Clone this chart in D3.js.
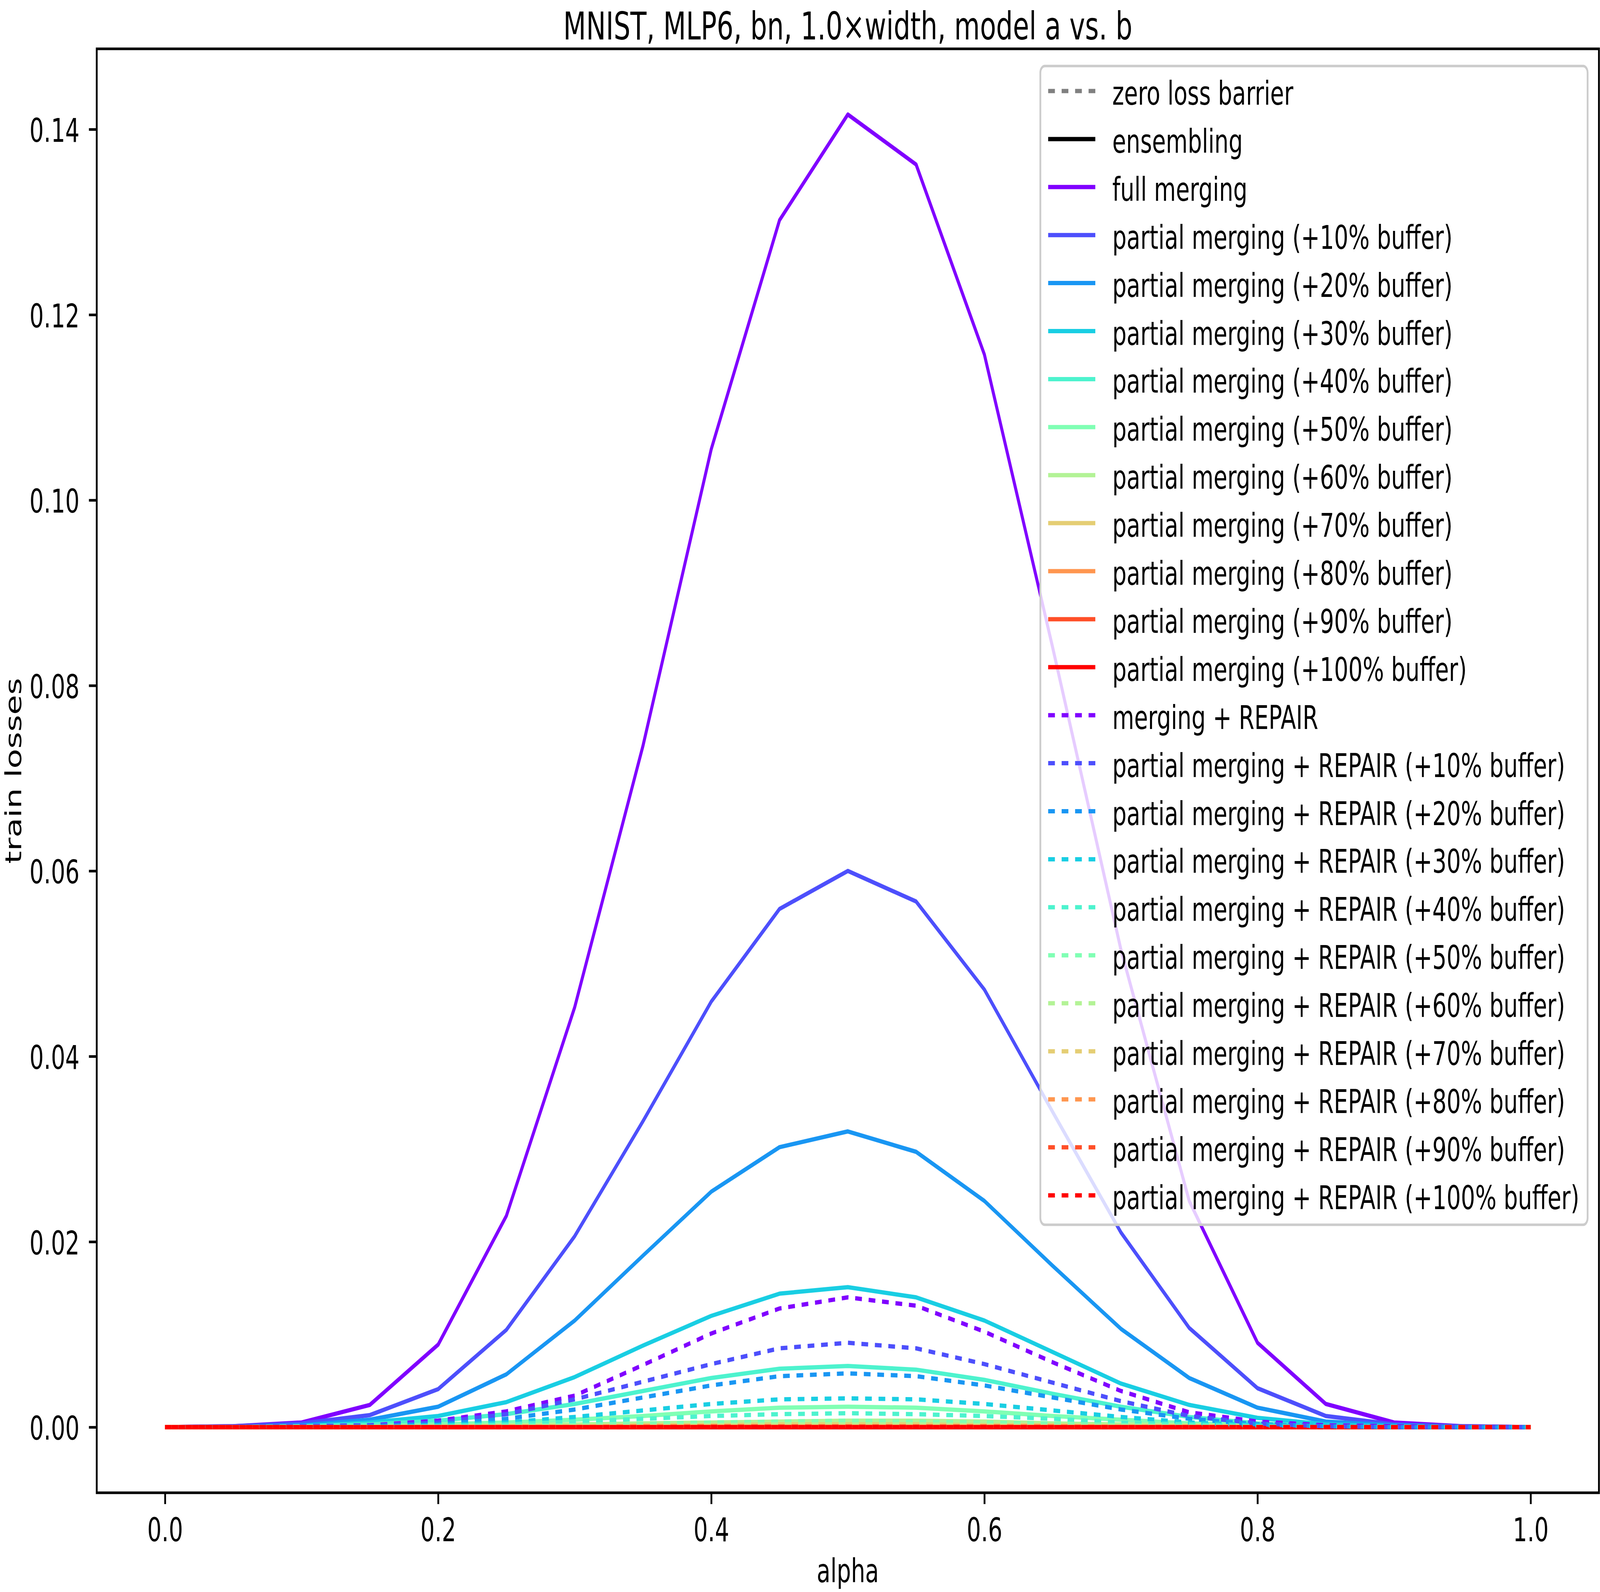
<!DOCTYPE html>
<html>
<head>
<meta charset="utf-8">
<script src="https://cdn.jsdelivr.net/npm/d3@7"></script>
<style>
  html, body { margin: 0; padding: 0; background: #fff; overflow: hidden; }
  svg { display: block; width: 100vw; height: 100vh; }
  text { font-family: "DejaVu Sans", sans-serif; }
</style>
</head>
<body>
<svg id="chart"></svg>
<script>
// interpolation coefficient
var alphas = [0, 0.05, 0.1, 0.15, 0.2, 0.25, 0.3, 0.35, 0.4, 0.45, 0.5,
              0.55, 0.6, 0.65, 0.7, 0.75, 0.8, 0.85, 0.9, 0.95, 1.0];

var xTicks = [0, 0.2, 0.4, 0.6, 0.8, 1.0];
var yTicks = [0, 0.02, 0.04, 0.06, 0.08, 0.10, 0.12, 0.14];

var zeroBarrier = [0,0,0,0,0,0,0,0,0,0,0,0,0,0,0,0,0,0,0,0,0];
var ensembling  = [0,0,0,0,0,0,0,0,0,0,0,0,0,0,0,0,0,0,0,0,0];

var fullMerging = [0, 0.0001, 0.0005, 0.0024, 0.0089, 0.0228, 0.0453, 0.0735, 0.1055, 0.1302, 0.1416,
                   0.1362, 0.1157, 0.0841, 0.0515, 0.0244, 0.0091, 0.0025, 0.0005, 0.0001, 0];
var pm10 = [0, 0.0001, 0.0004, 0.0013, 0.0041, 0.0105, 0.0206, 0.0330, 0.0459, 0.0559, 0.0600,
            0.0567, 0.0472, 0.0340, 0.0210, 0.0107, 0.0042, 0.0012, 0.0003, 0.0001, 0];
var pm20 = [0, 0, 0.0002, 0.0008, 0.0022, 0.0057, 0.0115, 0.0185, 0.0254, 0.0302, 0.0319,
            0.0297, 0.0244, 0.0174, 0.0106, 0.0053, 0.0021, 0.0006, 0.0002, 0, 0];
var pm30 = [0, 0, 0.0001, 0.0005, 0.0012, 0.0027, 0.0054, 0.0088, 0.0120, 0.0144, 0.0151,
            0.0140, 0.0115, 0.0081, 0.0047, 0.0024, 0.0010, 0.0003, 0.0001, 0, 0];
var pm40 = [0, 0, 0.0001, 0.0003, 0.0007, 0.0014, 0.0025, 0.0039, 0.0053, 0.0063, 0.0066,
            0.0062, 0.0051, 0.0036, 0.0022, 0.0011, 0.0004, 0.0001, 0, 0, 0];
var pm50 = [0, 0, 0, 0.0001, 0.0003, 0.0005, 0.0008, 0.0012, 0.0017, 0.0021, 0.0022,
            0.0021, 0.0017, 0.0012, 0.0008, 0.0004, 0.0002, 0.0001, 0, 0, 0];
var pm60 = [0, 0, 0, 0, 0.0001, 0.0002, 0.0003, 0.0004, 0.0005, 0.0006, 0.0007,
            0.0007, 0.0006, 0.0004, 0.0003, 0.0002, 0.0001, 0, 0, 0, 0];
var pm70 = [0, 0, 0, 0, 0, 0.0001, 0.0001, 0.0002, 0.0002, 0.0003, 0.0003,
            0.0003, 0.0002, 0.0002, 0.0001, 0.0001, 0, 0, 0, 0, 0];
var pm80 = [0, 0, 0, 0, 0, 0, 0, 0.0001, 0.0001, 0.0001, 0.0001,
            0.0001, 0.0001, 0.0001, 0, 0, 0, 0, 0, 0, 0];
var pm90 = [0, 0, 0, 0, 0, 0, 0, 0, 0.00005, 0.00005, 0.00005,
            0.00005, 0.00005, 0, 0, 0, 0, 0, 0, 0, 0];
var pm100 = [0,0,0,0,0,0,0,0,0,0,0,0,0,0,0,0,0,0,0,0,0];

var mergeRepair = [0, 0, 0.0001, 0.0002, 0.0007, 0.0017, 0.0034, 0.0067, 0.0101, 0.0128, 0.0140,
                   0.0131, 0.0103, 0.0070, 0.0039, 0.0016, 0.0006, 0.0002, 0.0001, 0, 0];
var pmr10 = [0, 0, 0.0001, 0.0002, 0.0005, 0.0014, 0.0030, 0.0049, 0.0068, 0.0085, 0.0091,
             0.0085, 0.0068, 0.0048, 0.0028, 0.0012, 0.0004, 0.0001, 0, 0, 0];
var pmr20 = [0, 0, 0, 0.0001, 0.0003, 0.0009, 0.0019, 0.0032, 0.0045, 0.0055, 0.0058,
             0.0055, 0.0045, 0.0032, 0.0019, 0.0009, 0.0003, 0.0001, 0, 0, 0];
var pmr30 = [0, 0, 0, 0, 0.0002, 0.0005, 0.0011, 0.0018, 0.0025, 0.0030, 0.0031,
             0.0030, 0.0025, 0.0018, 0.0011, 0.0005, 0.0002, 0.0001, 0, 0, 0];
var pmr40 = [0, 0, 0, 0, 0.0001, 0.0003, 0.0006, 0.0009, 0.0012, 0.0014, 0.0015,
             0.0014, 0.0012, 0.0009, 0.0005, 0.0003, 0.0001, 0, 0, 0, 0];
var pmr50 = [0, 0, 0, 0, 0, 0.0001, 0.0002, 0.0004, 0.0005, 0.0006, 0.0007,
             0.0006, 0.0005, 0.0004, 0.0002, 0.0001, 0, 0, 0, 0, 0];
var pmr60 = [0, 0, 0, 0, 0, 0, 0.0001, 0.0001, 0.0002, 0.0003, 0.0003,
             0.0003, 0.0002, 0.0001, 0.0001, 0, 0, 0, 0, 0, 0];
var pmr70 = [0, 0, 0, 0, 0, 0, 0, 0, 0.0001, 0.0001, 0.0001,
             0.0001, 0.0001, 0, 0, 0, 0, 0, 0, 0, 0];
var pmr80 = [0,0,0,0,0,0,0,0,0,0,0,0,0,0,0,0,0,0,0,0,0];
var pmr90 = [0,0,0,0,0,0,0,0,0,0,0,0,0,0,0,0,0,0,0,0,0];
var pmr100 = [0,0,0,0,0,0,0,0,0,0,0,0,0,0,0,0,0,0,0,0,0];

var buffers = [10, 20, 30, 40, 50, 60, 70, 80, 90, 100];
var partialSeries = [pm10, pm20, pm30, pm40, pm50, pm60, pm70, pm80, pm90, pm100];
var repairSeries = [pmr10, pmr20, pmr30, pmr40, pmr50, pmr60, pmr70, pmr80, pmr90, pmr100];

// matplotlib "rainbow" colormap
function rainbow(t) {
  var clip = function(v) { return Math.max(0, Math.min(1, v)); };
  var r = clip(Math.abs(2 * t - 0.5));
  var g = clip(Math.sin(Math.PI * t));
  var b = clip(Math.cos(Math.PI * t / 2));
  return d3.rgb(Math.round(r * 255), Math.round(g * 255), Math.round(b * 255)).formatHex();
}

var series = [];
series.push({ label: "zero loss barrier", values: zeroBarrier, color: "#808080", dashed: true });
series.push({ label: "ensembling", values: ensembling, color: "#000000", dashed: false });
series.push({ label: "full merging", values: fullMerging, color: rainbow(0), dashed: false });
buffers.forEach(function(b, i) {
  series.push({ label: "partial merging (+" + b + "% buffer)", values: partialSeries[i],
                color: rainbow((i + 1) / 10), dashed: false });
});
series.push({ label: "merging + REPAIR", values: mergeRepair, color: rainbow(0), dashed: true });
buffers.forEach(function(b, i) {
  series.push({ label: "partial merging + REPAIR (+" + b + "% buffer)", values: repairSeries[i],
                color: rainbow((i + 1) / 10), dashed: true });
});

var W = 5938, H = 4075;
var plotL = 359, plotR = 5934, plotT = 125, plotB = 3821;
var fs = 83.3, lw = 11, spineW = 6.7, dash = "25,25";

// the drawing is laid out in 5938x4075 units and stretched to whatever window it gets
var svg = d3.select("#chart")
  .attr("viewBox", "0 0 " + W + " " + H)
  .attr("preserveAspectRatio", "none");

var ymax = d3.max(series, function(s) { return d3.max(s.values); });
var ypad = ymax * 0.05;
var x = d3.scaleLinear().domain([-0.05, 1.05]).range([plotL, plotR]);
var y = d3.scaleLinear().domain([-ypad, ymax + ypad]).range([plotB, plotT]);

svg.append("defs").append("clipPath").attr("id", "plotclip")
  .append("rect").attr("x", plotL).attr("y", plotT)
  .attr("width", plotR - plotL).attr("height", plotB - plotT);

var line = d3.line()
  .x(function(d, i) { return x(alphas[i]); })
  .y(function(d) { return y(d); });

svg.append("g").attr("clip-path", "url(#plotclip)")
  .selectAll("path")
  .data(series)
  .enter()
  .append("path")
    .attr("d", function(s) { return line(s.values); })
    .attr("fill", "none")
    .attr("stroke", function(s) { return s.color; })
    .attr("stroke-width", lw)
    .attr("stroke-linejoin", "round")
    .attr("stroke-dasharray", function(s) { return s.dashed ? dash : null; });

// axes
var xAxis = svg.append("g").attr("transform", "translate(0," + plotB + ")")
  .call(d3.axisBottom(x).tickValues(xTicks).tickFormat(d3.format(".1f"))
        .tickSize(29).tickPadding(36));
var yAxis = svg.append("g").attr("transform", "translate(" + plotL + ",0)")
  .call(d3.axisLeft(y).tickValues(yTicks).tickFormat(d3.format(".2f"))
        .tickSize(29).tickPadding(35));

[xAxis, yAxis].forEach(function(a) {
  a.select(".domain").remove();
  a.attr("font-family", null).attr("font-size", null);
  a.selectAll(".tick line").attr("stroke", "#000").attr("stroke-width", spineW);
  a.selectAll(".tick text").attr("fill", "#000").style("font-size", fs + "px");
});
yAxis.selectAll(".tick text").attr("dy", "0.38em");

svg.append("rect")
  .attr("x", plotL).attr("y", plotT)
  .attr("width", plotR - plotL).attr("height", plotB - plotT)
  .attr("fill", "none").attr("stroke", "#000").attr("stroke-width", spineW);

// labels
svg.append("text")
  .attr("x", (plotL + plotR) / 2).attr("y", 101)
  .attr("text-anchor", "middle").style("font-size", "98px")
  .text("MNIST, MLP6, bn, 1.0\u00d7width, model a vs. b");

svg.append("text")
  .attr("x", (plotL + plotR) / 2).attr("y", 4050)
  .attr("text-anchor", "middle").style("font-size", fs + "px")
  .text("alpha");

svg.append("text")
  .attr("transform", "translate(78," + (plotT + plotB) / 2 + ") rotate(-90)")
  .attr("text-anchor", "middle").style("font-size", fs + "px")
  .text("train losses");

// legend
var legX = 3861, legY = 169, legW = 5892 - 3861, legH = 3135 - 169;
var rowY0 = 233, rowStep = 122.9;
var legend = svg.append("g");
legend.append("rect")
  .attr("x", legX).attr("y", legY).attr("width", legW).attr("height", legH)
  .attr("rx", 17).attr("ry", 17)
  .attr("fill", "#fff").attr("fill-opacity", 0.8)
  .attr("stroke", "#cccccc").attr("stroke-width", spineW);

var rows = legend.selectAll("g.row")
  .data(series)
  .enter()
  .append("g")
    .attr("class", "row")
    .attr("transform", function(s, i) { return "translate(0," + (rowY0 + i * rowStep) + ")"; });

rows.append("line")
  .attr("x1", 3890).attr("x2", 4065).attr("y1", 0).attr("y2", 0)
  .attr("stroke", function(s) { return s.color; })
  .attr("stroke-width", lw)
  .attr("stroke-dasharray", function(s) { return s.dashed ? dash : null; });

rows.append("text")
  .attr("x", 4128).attr("y", 35)
  .style("font-size", fs + "px")
  .text(function(s) { return s.label; });
</script>
</body>
</html>
